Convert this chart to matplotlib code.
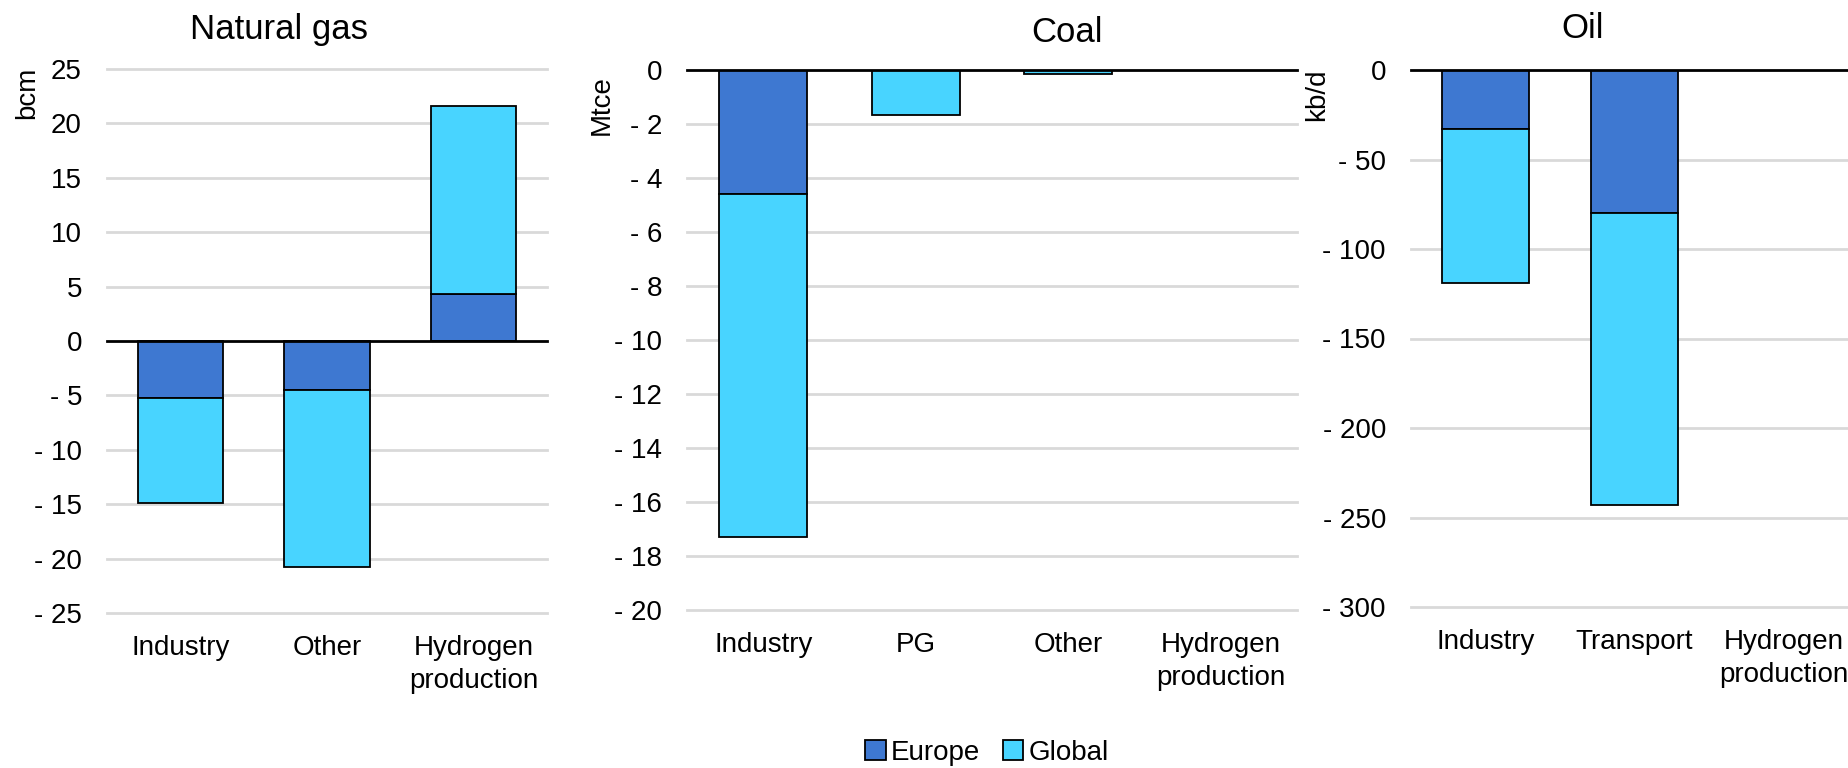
import matplotlib
matplotlib.use("Agg")
import matplotlib.pyplot as plt
from matplotlib.patches import Patch
import numpy as np

plt.rcParams['font.family'] = ['Liberation Sans', 'DejaVu Sans']

# data
gas_cats = ["Industry", "Other", "Hydrogen\nproduction"]
gas_europe = [-5.2, -4.5, 4.3]
gas_global = [-9.7, -16.3, 17.3]

coal_cats = ["Industry", "PG", "Other", "Hydrogen\nproduction"]
coal_europe = [-4.6, 0.0, 0.0, 0.0]
coal_global = [-12.7, -1.65, -0.13, 0.0]

oil_cats = ["Industry", "Transport", "Hydrogen\nproduction"]
oil_europe = [-33, -80, 0]
oil_global = [-86, -163, 0]

europe_col = '#3E78D1'
global_col = '#48D4FF'
grid_col = '#D9D9D9'
FS = 20


def fmt(v):
    if v < 0:
        return "- {:g}".format(abs(v))
    return "{:g}".format(v)


def panel(ax, cats, eu, gl, ylim, step):
    x = np.arange(len(cats))
    eu = np.array(eu, dtype=float)
    gl = np.array(gl, dtype=float)
    ax.bar(x, eu, width=0.58, color=europe_col, edgecolor='black', lw=1.3, zorder=3)
    ax.bar(x, gl, width=0.58, bottom=eu, color=global_col, edgecolor='black', lw=1.3, zorder=3)
    ticks = np.arange(ylim[0], ylim[1] + step / 2, step)
    ax.set_yticks(ticks)
    ax.set_yticklabels([fmt(t) for t in ticks], fontsize=FS)
    ax.set_ylim(ylim[0], ylim[1])
    ax.set_xlim(-0.5, len(cats) - 0.5)
    ax.set_xticks(x)
    ax.set_xticklabels(cats, fontsize=FS, linespacing=1.35)
    for t in ticks:
        if t == 0:
            continue
        ax.axhline(t, color=grid_col, lw=2, zorder=1, clip_on=False)
    ax.axhline(0, color='black', lw=2, zorder=4, clip_on=False)
    for s in ax.spines.values():
        s.set_visible(False)
    ax.tick_params(axis='both', length=0)
    ax.tick_params(axis='y', pad=18)
    ax.tick_params(axis='x', pad=16)


fig = plt.figure(figsize=(18.48, 7.68), dpi=100)

ax1 = fig.add_axes([107 / 1848, 1 - 613 / 768, 440 / 1848, 544 / 768])
panel(ax1, gas_cats, gas_europe, gas_global, (-25, 25), 5)

ax2 = fig.add_axes([687 / 1848, 1 - 610 / 768, 610 / 1848, 540 / 768])
panel(ax2, coal_cats, coal_europe, coal_global, (-20, 0), 2)

ax3 = fig.add_axes([1411 / 1848, 1 - 607 / 768, 447 / 1848, 537 / 768])
panel(ax3, oil_cats, oil_europe, oil_global, (-300, 0), 50)

# titles
fig.text(279 / 1848, 1 - 29 / 768, "Natural gas", fontsize=25, ha='center', va='center')
fig.text(1067 / 1848, 1 - 33 / 768, "Coal", fontsize=25, ha='center', va='center')
fig.text(1583 / 1848, 1 - 29 / 768, "Oil", fontsize=25, ha='center', va='center')

# unit labels
fig.text(27 / 1848, 1 - 93 / 768, "bcm", fontsize=FS, rotation=90, ha='center', va='center')
fig.text(602 / 1848, 1 - 105 / 768, "Mtce", fontsize=FS, rotation=90, ha='center', va='center')
fig.text(1317 / 1848, 1 - 95 / 768, "kb/d", fontsize=FS, rotation=90, ha='center', va='center')

handles = [Patch(facecolor=europe_col, edgecolor='black', lw=1.3, label='Europe'),
           Patch(facecolor=global_col, edgecolor='black', lw=1.3, label='Global')]
fig.legend(handles=handles, loc='center', bbox_to_anchor=(987 / 1848, 1 - 753 / 768),
           ncol=2, frameon=False, fontsize=FS, handlelength=0.75, handleheight=0.75,
           handletextpad=0.2, columnspacing=0.8)

fig.savefig("out.png", dpi=100)
